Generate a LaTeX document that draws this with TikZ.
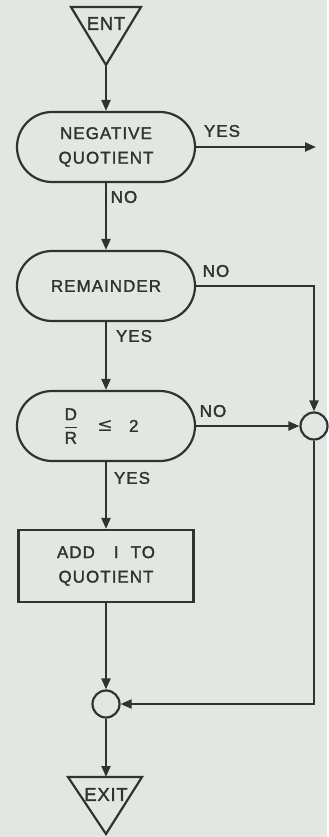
\documentclass[tikz,border=0pt]{standalone}
\usepackage{amsmath}
\usepackage{fontspec}
\setmainfont{Liberation Sans}
\newfontfamily\symfont{DejaVu Sans}
\usetikzlibrary{arrows.meta}
\definecolor{paper}{RGB}{227,231,225}
\definecolor{ink}{RGB}{50,50,50}

\begin{document}
\begin{tikzpicture}[x=1pt,y=-1pt,
  every node/.style={font=\fontsize{17}{24.5}\selectfont\addfontfeature{LetterSpace=6,FakeBold=1.6}, text=ink},
  flow/.style={draw=ink, line width=2.2pt},
  arr/.style={flow, -{Triangle[length=11pt,width=9pt]}},
  decision/.style={draw=ink, line width=2.2pt, rectangle, rounded corners=35pt,
    minimum width=178pt, minimum height=70pt, align=center, inner sep=0pt},
  process/.style={draw=ink, line width=2.2pt, rectangle,
    minimum width=175pt, minimum height=72pt, align=center, inner sep=0pt},
  junction/.style={draw=ink, line width=2.2pt, circle, minimum size=27pt, inner sep=0pt},
  tag/.style={inner sep=0pt},
  termtext/.style={inner sep=0pt, font=\fontsize{18.5}{20}\selectfont\addfontfeature{LetterSpace=4,FakeBold=1.6}}
]
% paper
\fill[paper] (0,0) rectangle (327,837);

% entry and exit terminals
\draw[flow, line join=miter] (71,7) -- (141,7) -- (106,65) -- cycle;
\coordinate (enttip) at (106,65);
\node[termtext] (ent) at (106,23.5) {ENT};

\draw[flow, line join=miter] (68,777) -- (142,777) -- (106,834) -- cycle;
\coordinate (exittop) at (106,777);
\node[termtext] (exit) at (106,794.5) {EXIT};

% decisions and action
\node[decision] (neg) at (106,147) {NEGATIVE\\QUOTIENT};
\node[decision] (rem) at (106,286) {REMAINDER};
\node[decision] (cmp) at (106,426)
  {$\dfrac{\mbox{D}}{\mbox{R}}$\hspace{19pt}{\symfont\fontsize{19}{20}\selectfont ≤}\hspace{16pt}2\hspace{10pt}};
\node[process] (add) at (106,566) {ADD\hspace{19pt}I\hspace{12pt}TO\\QUOTIENT};

% junctions
\node[junction] (jr) at (314,426) {};
\node[junction] (jb) at (106,704) {};

% free end of the YES exit
\coordinate (yesout) at (316,147);

% connectors
\draw[arr] (enttip) -- (neg.north);
\draw[arr] (neg.east) -- (yesout);
\draw[arr] (neg.south) -- (rem.north);
\draw[arr] (rem.east) -| (jr.north);
\draw[arr] (rem.south) -- (cmp.north);
\draw[arr] (cmp.east) -- (jr.west);
\draw[arr] (cmp.south) -- (add.north);
\draw[arr] (add.south) -- (jb.north);
\draw[arr] (jr.south) |- (jb.east);
\draw[arr] (jb.south) -- (exittop);

% branch labels
\node[tag] (yes1) at (222,131) {YES};
\node[tag] (no1) at (124,197) {NO};
\node[tag] (no2) at (216,271) {NO};
\node[tag] (yes2) at (134,336) {YES};
\node[tag] (no3) at (213,411) {NO};
\node[tag] (yes3) at (132,478) {YES};
\end{tikzpicture}
\end{document}
